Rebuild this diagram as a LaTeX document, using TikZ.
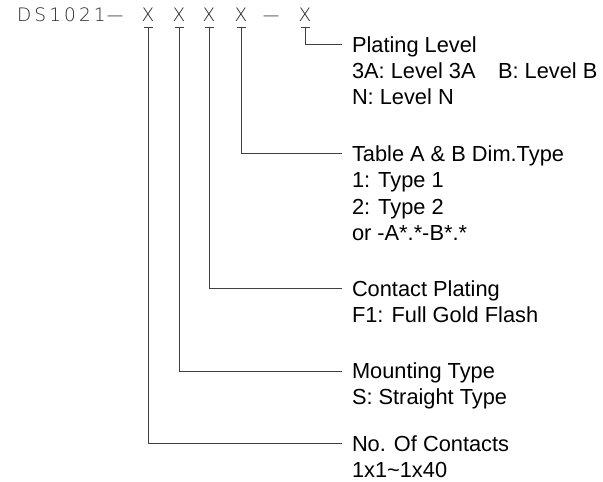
\documentclass[tikz,border=0pt]{standalone}
\usepackage{fontspec}
\usepackage{graphicx}
\setmainfont{Liberation Sans}
\newfontfamily\cadfont[LetterSpace=17]{DejaVu Sans ExtraLight}
\newfontfamily\cadx{DejaVu Sans ExtraLight}
\newcommand{\longdash}{\scalebox{2}[1]{–}}
\begin{document}
\begin{tikzpicture}[x=1pt,y=-1pt,
  conn/.style={draw=black!75, line width=0.9pt},
  cad/.style={inner sep=0pt, outer sep=0pt, text=black!85, font=\cadfont\fontsize{18.5}{21}\selectfont},
  cadletter/.style={inner sep=0pt, outer sep=0pt, text=black!85, font=\cadx\fontsize{18.5}{21}\selectfont},
  lbl/.style={inner sep=0pt, outer sep=0pt, anchor=base west, font=\fontsize{21.8}{26}\selectfont}]
\useasboundingbox (0,0) rectangle (603,482);

% part number
\node[cad, anchor=base west] (pn) at (17,21.5) {DS1021\longdash};
\node[cadletter, anchor=base] (x1) at (148,21.5) {X};
\node[cadletter, anchor=base] (x2) at (179,21.5) {X};
\node[cadletter, anchor=base] (x3) at (209,21.5) {X};
\node[cadletter, anchor=base] (x4) at (241,21.5) {X};
\node[cadletter, anchor=base] (dsh) at (271,21.5) {\longdash};
\node[cadletter, anchor=base] (x5) at (305,21.5) {X};

% T-bars
\foreach \i in {1,...,5}{
  \coordinate (t\i) at ([yshift=-5.5pt]x\i.base);
  \draw[conn] ([xshift=-4.5pt]t\i) -- ([xshift=4.5pt]t\i);
}

% connector ends
\coordinate (e5) at (342,44);
\coordinate (e4) at (342,153);
\coordinate (e3) at (342,288);
\coordinate (e2) at (342,371);
\coordinate (e1) at (342,443);

\draw[conn] (t5) |- (e5);
\draw[conn] (t4) |- (e4);
\draw[conn] (t3) |- (e3);
\draw[conn] (t2) |- (e2);
\draw[conn] (t1) |- (e1);

% labels
\node[lbl] (p1) at (352,52) {Plating Level};
\node[lbl] (p2) at (352,78) {3A: Level 3A};
\node[lbl] (p2b) at (498,78) {B: Level B};
\node[lbl] (p3) at (352,104) {N: Level N};

\node[lbl] (d1) at (352,161) {Table A \& B Dim.Type};
\node[lbl] (d2) at (352,187.5) {1: Type 1};
\node[lbl] (d3) at (352,214) {2: Type 2};
\node[lbl] (d4) at (352,240.5) {or -A*.*-B*.*};

\node[lbl] (c1) at (352,296) {Contact Plating};
\node[lbl] (c2) at (352,322) {F1: Full Gold Flash};

\node[lbl] (m1) at (352,378.5) {Mounting Type};
\node[lbl] (m2) at (352,404.5) {S: Straight Type};

\node[lbl] (n1) at (352,451) {No. Of Contacts};
\node[lbl] (n2) at (352,477) {1x1\char`~1x40};
\end{tikzpicture}
\end{document}
